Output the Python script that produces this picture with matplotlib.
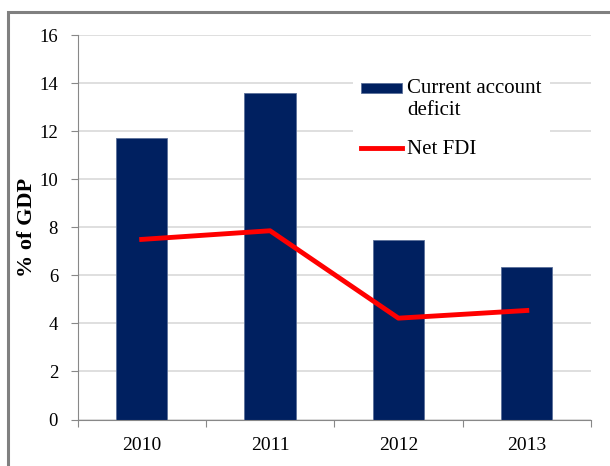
import numpy as np
import matplotlib
matplotlib.use('Agg')
import matplotlib.pyplot as plt
from matplotlib.patches import Rectangle
from matplotlib.lines import Line2D
from matplotlib.legend_handler import HandlerPatch

years = ['2010', '2011', '2012', '2013']
current_account_deficit = [11.74, 13.6, 7.47, 6.36]
net_fdi = [7.5, 7.86, 4.22, 4.54]
y_ticks = [0, 2, 4, 6, 8, 10, 12, 14, 16]

plt.rcParams['font.family'] = 'serif'
plt.rcParams['font.serif'] = ['Liberation Serif', 'DejaVu Serif']


def top_patch(legend, orig_handle, xdescent, ydescent, width, height, fontsize):
    # put the bar swatch next to the first line of a two-line label
    return Rectangle((-xdescent, -ydescent + 0.55 * fontsize), width, height)


fig = plt.figure(figsize=(6.1, 4.66), dpi=100)
ax = fig.add_axes([77.5 / 610, 1 - 419.5 / 466, 513.5 / 610, 384.2 / 466])

x = np.arange(len(years))
bars = ax.bar(x, current_account_deficit, width=0.4, color='#002060',
              edgecolor='#5a6f99', linewidth=0.6, zorder=2)
line, = ax.plot(x, net_fdi, color='#ff0000', linewidth=3.5, zorder=3)

ax.set_xlim(-0.5, 3.5)
ax.set_ylim(0, 16)
ax.set_yticks(y_ticks)
ax.tick_params(axis='y', labelsize=13.5, length=5, color='#888888', pad=9)

# category boundaries as ticks, labels in between
ax.set_xticks(np.arange(-0.5, 4, 1))
ax.set_xticklabels([])
ax.set_xticks(x, minor=True)
ax.set_xticklabels(years, minor=True)
ax.tick_params(axis='x', which='major', length=5, color='#888888')
ax.tick_params(axis='x', which='minor', length=0, labelsize=14, pad=12.5)

ax.grid(axis='y', color='#d9d9d9', linewidth=1.2, zorder=0)
ax.set_axisbelow(True)
for s in ['top', 'right']:
    ax.spines[s].set_visible(False)
for s in ['left', 'bottom']:
    ax.spines[s].set_color('#888888')
    ax.spines[s].set_linewidth(0.8)

ax.set_ylabel('% of GDP', fontsize=16, fontweight='bold', labelpad=2)

leg = ax.legend([bars[0], line], ['Current account\ndeficit', 'Net FDI'],
                loc='upper left', bbox_to_anchor=(0.536, 0.907), borderaxespad=0,
                fontsize=15, frameon=True, facecolor='white', edgecolor='none',
                framealpha=1, handlelength=1.97, handleheight=0.4,
                handletextpad=0.24, labelspacing=0.95, borderpad=0.4, fancybox=False,
                handler_map={bars[0]: HandlerPatch(patch_func=top_patch)})

# outer border of the chart area
fig.patches.append(Rectangle((8.3 / 610, -0.1), 1.2, 1 - 11.7 / 466 + 0.1,
                             transform=fig.transFigure, fill=False,
                             edgecolor='#808080', linewidth=2.2))

fig.savefig('out.png', dpi=100)
